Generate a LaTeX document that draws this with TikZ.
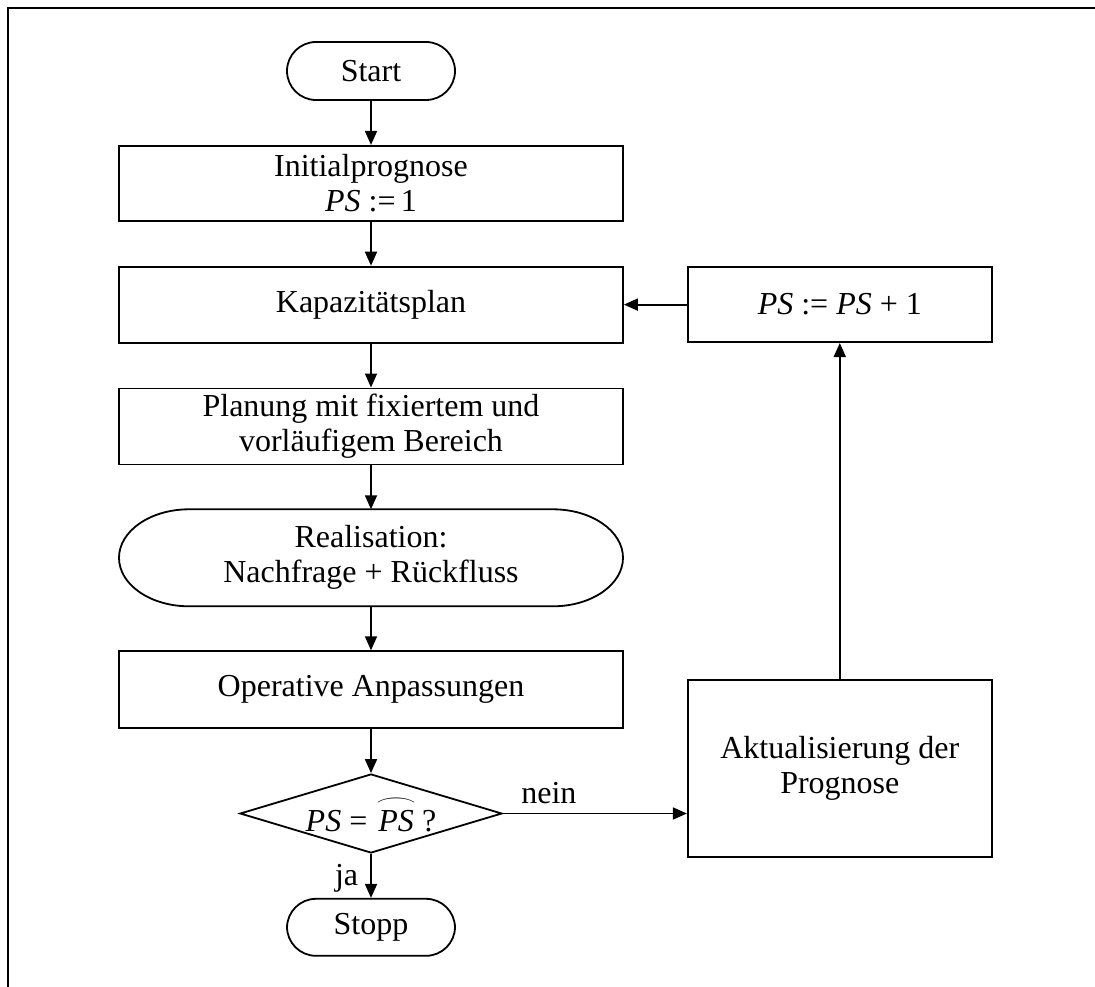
\documentclass[tikz,border=0pt]{standalone}
\usepackage{fontspec}
\setmainfont{Liberation Serif}
\usetikzlibrary{arrows.meta,positioning,shapes.geometric}
\usepackage{amsmath}
\usepackage{graphicx}

\newcommand{\arcPS}{$\overset{\scalebox{1.7}[0.8]{$\frown$}}{\textit{PS}}$}

\begin{document}
\begin{tikzpicture}[x=1pt,y=-1pt,>={Triangle[length=14pt,width=12pt]},
    node distance=44pt,line width=1.8pt,
    every node/.style={font=\fontsize{32}{35}\selectfont},
    box/.style={draw,rectangle,align=center,minimum width=504pt,minimum height=76pt,inner sep=2pt},
    term/.style={draw,rectangle,rounded corners=29pt,minimum width=168pt,minimum height=58pt,inner sep=0pt},
    decision/.style={draw,diamond,aspect=3.3,minimum width=262pt,minimum height=79pt,inner sep=0pt}]
            \useasboundingbox (0,0) rectangle (1095,987);
            \draw[line width=2.8pt] (8,987) -- (8,8) -- (1095,8);

            \node[term]       (start) at (371,71)      {Start};
            \node[box, minimum height=75pt] (init) [below=of start] {Initialprognose\\\textit{PS} :=\,1};
            \node[box]        (kap)   [below=of init]  {Kapazitätsplan};
            \node[box]        (plan)  [below=of kap]   {Planung mit fixiertem und\\vorläufigem Bereich};
            \node[align=center, minimum width=504pt, minimum height=97pt, inner sep=0pt, outer sep=0pt]
                              (real)  [below=of plan]  {Realisation:\\Nachfrage + Rückfluss};
            \node[box, minimum height=77pt] (oper) [below=of real] {Operative Anpassungen};
            \node[decision]   (dia)   [below=of oper]  {\textit{PS} = \arcPS\,?};
            \node[term, minimum height=57pt] (stopp) [below=of dia] {Stopp};
            \node[box, minimum width=304pt, minimum height=75pt] (ps) [right=63pt of kap] {\textit{PS} := \textit{PS} + 1};
            \node[box, minimum width=304pt, minimum height=177pt] (akt) [below=336pt of ps] {Aktualisierung der\\Prognose};

            % Realisation outline with elliptic ends
            \draw ([xshift=70pt]real.north west) -- ([xshift=-70pt]real.north east)
                  arc[start angle=90, end angle=-90, x radius=70pt, y radius=48.5pt]
                  -- ([xshift=70pt]real.south west)
                  arc[start angle=270, end angle=90, x radius=70pt, y radius=48.5pt] -- cycle;

            \path[every edge/.style={draw,->}]
                (start) edge (init)
                (init)  edge (kap)
                (kap)   edge (plan)
                (plan)  edge (real)
                (real)  edge (oper)
                (oper)  edge (dia)
                (dia)   edge node[left, pos=0.55, inner sep=12pt] {ja} (stopp)
                (dia.east) edge node[near start, above, inner sep=9pt] {nein} (dia.east -| akt.west)
                (akt)   edge (ps)
                (ps)    edge (kap);
        \end{tikzpicture}
\end{document}
